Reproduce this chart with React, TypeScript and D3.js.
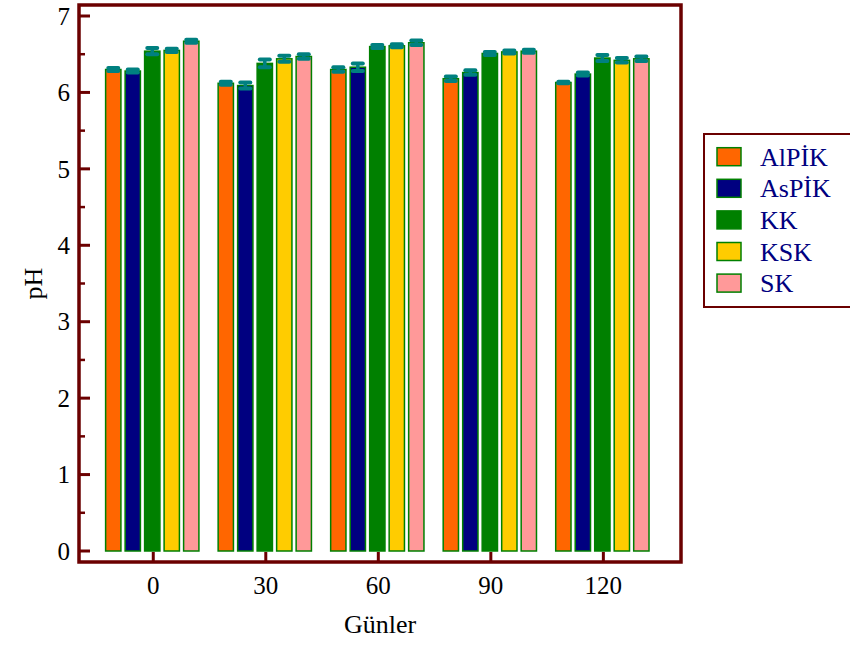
import React from "react";
import * as d3 from "d3";

const days = ["0", "30", "60", "90", "120"];
const seriesNames = ["AlPİK", "AsPİK", "KK", "KSK", "SK"];
const seriesColors = ["#FF6600", "#000080", "#008000", "#FFCC00", "#FF9999"];
const alpik = [6.3, 6.12, 6.3, 6.18, 6.13];
const aspik = [6.28, 6.09, 6.33, 6.26, 6.24];
const kk = [6.54, 6.38, 6.6, 6.51, 6.45];
const ksk = [6.55, 6.44, 6.61, 6.53, 6.42];
const sk = [6.67, 6.47, 6.65, 6.54, 6.44];
const alpikErr = [0.02, 0.02, 0.03, 0.03, 0.01];
const aspikErr = [0.02, 0.04, 0.05, 0.03, 0.02];
const kkErr = [0.04, 0.05, 0.02, 0.02, 0.04];
const kskErr = [0.02, 0.04, 0.02, 0.02, 0.03];
const skErr = [0.02, 0.03, 0.03, 0.02, 0.03];
const yTicks = [0, 1, 2, 3, 4, 5, 6, 7];

const values = [alpik, aspik, kk, ksk, sk];
const errors = [alpikErr, aspikErr, kkErr, kskErr, skErr];

const FRAME = "#6B0000";
const ERR = "#008080";
const FONT = "'Liberation Serif', 'Times New Roman', serif";

export default function App() {
  const left = 79, right = 681, top = 5, bottom = 562;
  const x0 = d3.scaleLinear().domain([-19.8, 140.7]).range([left, right]);
  const groupW = 93.3;
  const x1 = d3.scaleBand<string>().domain(seriesNames).range([-groupW / 2 - 1, groupW / 2 - 1]).paddingInner(0.215);
  const y = d3.scaleLinear().domain([0, 7]).range([551, 16]);
  const minor = d3.range(0.5, 7, 1);
  const xs = (d: string) => x0(+d);

  return (
    <svg width={850} height={646} style={{ position: "absolute", left: 0, top: 0, background: "#fff" }}>
      {/* bars */}
      {seriesNames.map((s, si) =>
        days.map((d, di) => {
          const cx = xs(d) + (x1(s) as number);
          const w = x1.bandwidth();
          const v = values[si][di];
          return (
            <rect key={s + d} x={cx} y={y(v)} width={w} height={y(0) - y(v)}
              fill={seriesColors[si]} stroke="#008000" strokeWidth={1.5} />
          );
        })
      )}
      {/* error bars */}
      {seriesNames.map((s, si) =>
        days.map((d, di) => {
          const cx = xs(d) + (x1(s) as number) + x1.bandwidth() / 2;
          const v = values[si][di];
          const e = errors[si][di];
          const y1 = y(v + e), y2 = y(v - e);
          return (
            <g key={"e" + s + d} stroke={ERR}>
              <line x1={cx} x2={cx} y1={y1} y2={y2} strokeWidth={3.5} />
              <line x1={cx - 5} x2={cx + 5} y1={y1} y2={y1} strokeWidth={4} strokeLinecap="round" />
              <line x1={cx - 5} x2={cx + 5} y1={y2} y2={y2} strokeWidth={4} strokeLinecap="round" />
            </g>
          );
        })
      )}
      {/* frame */}
      <rect x={left} y={top} width={right - left} height={bottom - top} fill="none" stroke={FRAME} strokeWidth={3.5} />
      {/* y ticks */}
      {yTicks.map((t) => (
        <g key={"yt" + t}>
          <line x1={left} x2={left + 11} y1={y(t)} y2={y(t)} stroke={FRAME} strokeWidth={3} />
          <text x={70} y={y(t)} dy="0.35em" textAnchor="end" fontFamily={FONT} fontSize={25} fill="#000">{t}</text>
        </g>
      ))}
      {minor.map((t) => (
        <line key={"ym" + t} x1={left} x2={left + 6} y1={y(t)} y2={y(t)} stroke={FRAME} strokeWidth={2.5} />
      ))}
      {/* x ticks */}
      {days.map((d) => (
        <g key={"xt" + d}>
          <line x1={xs(d)} x2={xs(d)} y1={bottom} y2={bottom - 10} stroke={FRAME} strokeWidth={3} />
          <text x={xs(d)} y={594} textAnchor="middle" fontFamily={FONT} fontSize={25} fill="#000">{d}</text>
        </g>
      ))}
      {/* axis titles */}
      <text x={380} y={633} textAnchor="middle" fontFamily={FONT} fontSize={26} fill="#000">Günler</text>
      <text transform={`translate(42,${(top + bottom) / 2}) rotate(-90)`} textAnchor="middle" fontFamily={FONT} fontSize={26} fill="#000">pH</text>
      {/* legend */}
      <rect x={704} y={134} width={160} height={173} fill="#fff" stroke={FRAME} strokeWidth={2} />
      {seriesNames.map((s, i) => {
        const cy = 156.7 + i * 31.6;
        return (
          <g key={"lg" + s}>
            <rect x={717} y={cy - 9} width={24} height={18} fill={seriesColors[i]} stroke="#008000" strokeWidth={1.5} />
            <text x={760} y={cy} dy="0.35em" fontFamily={FONT} fontSize={26} fill="#000080">{s}</text>
          </g>
        );
      })}
    </svg>
  );
}
